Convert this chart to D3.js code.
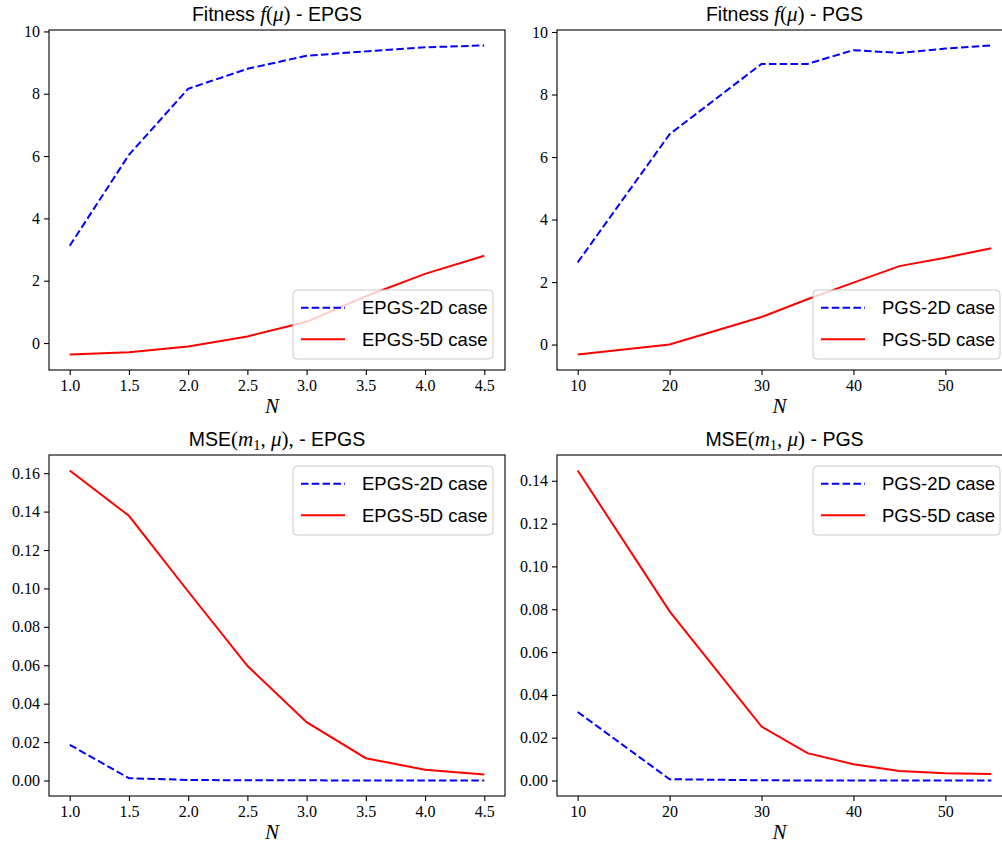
<!DOCTYPE html>
<html>
<head>
<meta charset="utf-8">
<script src="https://cdn.jsdelivr.net/npm/d3@7"></script>
<style>
  body { margin: 0; background: #fff; }
  svg { display: block; overflow: hidden; }
  .tick text { font-family: "Liberation Serif", serif; font-size: 16px; fill: #000; }
</style>
</head>
<body>
<svg id="fig" width="1002" height="843"></svg>
<script>
// Values.
const epgsN = [1.0, 1.5, 2.0, 2.5, 3.0, 3.5, 4.0, 4.5];
const pgsN = [10, 20, 30, 35, 40, 45, 50, 55];

const epgsFit2D = [3.12, 6.04, 8.16, 8.80, 9.22, 9.36, 9.49, 9.55];
const epgsFit5D = [-0.37, -0.30, -0.11, 0.21, 0.68, 1.50, 2.22, 2.80];
const pgsFit2D = [2.63, 6.73, 8.98, 8.98, 9.42, 9.33, 9.47, 9.57];
const pgsFit5D = [-0.32, 0.0, 0.88, 1.45, 1.98, 2.51, 2.78, 3.08];

const epgsMse2D = [0.0186, 0.0012, 0.0003, 0.0001, 0.0001, 0.0, 0.0, 0.0];
const epgsMse5D = [0.1614, 0.1378, 0.0984, 0.0597, 0.0304, 0.0116, 0.0056, 0.0031];
const pgsMse2D = [0.032, 0.0006, 0.0001, 0.0, 0.0, 0.0, 0.0, 0.0];
const pgsMse5D = [0.1448, 0.079, 0.0252, 0.0128, 0.0076, 0.0044, 0.0034, 0.003];

const epgsTicksX = [1.0, 1.5, 2.0, 2.5, 3.0, 3.5, 4.0, 4.5];
const pgsTicksX = [10, 20, 30, 40, 50];
const fitTicksY = [0, 2, 4, 6, 8, 10];
const epgsMseTicksY = [0, 0.02, 0.04, 0.06, 0.08, 0.10, 0.12, 0.14, 0.16];
const pgsMseTicksY = [0, 0.02, 0.04, 0.06, 0.08, 0.10, 0.12, 0.14];

const legendEPGS = ["EPGS-2D case", "EPGS-5D case"];
const legendPGS = ["PGS-2D case", "PGS-5D case"];

const svg = d3.select("#fig");

// matplotlib style 5% padding on data limits
function padded(vals) {
    let lo = d3.min(vals), hi = d3.max(vals), m = (hi - lo) * 0.05;
    return [lo - m, hi + m];
}

function title(g, cx, y, parts) {
    let t = g.append("text").attr("x", cx).attr("y", y)
        .attr("text-anchor", "middle").attr("font-size", 19.5);
    parts.forEach(p => {
        let s = t.append("tspan").text(p.t);
        if (p.math) {
            s.attr("font-family", "'Liberation Serif', serif").attr("font-size", 21);
            if (p.it) s.attr("font-style", "italic");
        } else {
            s.attr("font-family", "'Liberation Sans', Arial, sans-serif");
        }
        if (p.sub) s.attr("font-size", 14.5).attr("dy", 4);
        if (p.up) s.attr("dy", -4);
    });
}

function panel(box, xs, s2D, s5D, xTicks, yTicks, yFmt, titleParts, names, legendPos) {
    let {left, right, top, bottom} = box;
    let x = d3.scaleLinear().domain(padded(xs)).range([left, right]);
    let y = d3.scaleLinear().domain(padded(s2D.concat(s5D))).range([bottom, top]);
    let g = svg.append("g");

    let line = d3.line().x((d, i) => x(xs[i])).y(d => y(d));

    g.append("path").datum(s2D).attr("d", line)
        .attr("fill", "none").attr("stroke", "#0000ff").attr("stroke-width", 2)
        .attr("stroke-dasharray", "7.5,3.3");
    g.append("path").datum(s5D).attr("d", line)
        .attr("fill", "none").attr("stroke", "#ff0000").attr("stroke-width", 2);

    // frame
    g.append("rect").attr("x", left).attr("y", top)
        .attr("width", right - left).attr("height", bottom - top)
        .attr("fill", "none").attr("stroke", "#000").attr("stroke-width", 1.1);

    let xa = g.append("g").attr("transform", `translate(0,${bottom})`)
        .call(d3.axisBottom(x).tickValues(xTicks).tickFormat(d3.format(xTicks[0] < 5 ? ".1f" : "d")).tickSize(5).tickPadding(5));
    let ya = g.append("g").attr("transform", `translate(${left},0)`)
        .call(d3.axisLeft(y).tickValues(yTicks).tickFormat(d3.format(yFmt)).tickSize(5).tickPadding(4));
    [xa, ya].forEach(a => {
        a.select(".domain").remove();
        a.selectAll(".tick line").attr("stroke", "#000").attr("stroke-width", 1.1);
    });

    // x label
    g.append("text").attr("x", (left + right) / 2 - 5).attr("y", bottom + 43)
        .attr("text-anchor", "middle").attr("font-family", "'Liberation Serif', serif")
        .attr("font-style", "italic").attr("font-size", 21).text("N");

    title(g, (left + right) / 2, top - 9, titleParts);

    // legend
    let lw = right - 12 - legendPos.x;
    let lg = g.append("g").attr("transform", `translate(${legendPos.x},${legendPos.y})`);
    lg.append("rect").attr("width", lw).attr("height", 69).attr("rx", 4)
        .attr("fill", "#fff").attr("fill-opacity", 0.8)
        .attr("stroke", "#cccccc").attr("stroke-width", 1);
    names.forEach((n, i) => {
        let yy = 17.7 + i * 31.6;
        lg.append("line").attr("x1", 8).attr("x2", 52).attr("y1", yy).attr("y2", yy)
            .attr("stroke", i ? "#ff0000" : "#0000ff").attr("stroke-width", 2)
            .attr("stroke-dasharray", i ? null : "7.5,3.3");
        lg.append("text").attr("x", 69).attr("y", yy + 6.5)
            .attr("font-family", "'Liberation Sans', Arial, sans-serif").attr("font-size", 18.5)
            .text(n);
    });
}

const fitTitle = which => [
    {t: "Fitness "}, {t: "f", math: true, it: true}, {t: "(", math: true},
    {t: "μ", math: true, it: true}, {t: ")", math: true}, {t: " - " + which}];

panel({left: 49, right: 505, top: 30, bottom: 370}, epgsN, epgsFit2D, epgsFit5D,
    epgsTicksX, fitTicksY, "d", fitTitle("EPGS"), legendEPGS, {x: 293, y: 290});
panel({left: 557, right: 1012, top: 30, bottom: 370}, pgsN, pgsFit2D, pgsFit5D,
    pgsTicksX, fitTicksY, "d", fitTitle("PGS"), legendPGS, {x: 813, y: 290});

panel({left: 49, right: 505, top: 455, bottom: 796}, epgsN, epgsMse2D, epgsMse5D,
    epgsTicksX, epgsMseTicksY, ".2f",
    [{t: "MSE"}, {t: "(", math: true}, {t: "m", math: true, it: true}, {t: "1", math: true, sub: true},
     {t: ", ", math: true, up: true}, {t: "μ", math: true, it: true}, {t: "),", math: true}, {t: " - EPGS"}],
    legendEPGS, {x: 293, y: 466});
panel({left: 557, right: 1012, top: 455, bottom: 796}, pgsN, pgsMse2D, pgsMse5D,
    pgsTicksX, pgsMseTicksY, ".2f",
    [{t: "MSE"}, {t: "(", math: true}, {t: "m", math: true, it: true}, {t: "1", math: true, sub: true},
     {t: ", ", math: true, up: true}, {t: "μ", math: true, it: true}, {t: ")", math: true}, {t: " - PGS"}],
    legendPGS, {x: 813, y: 466});
</script>
</body>
</html>
